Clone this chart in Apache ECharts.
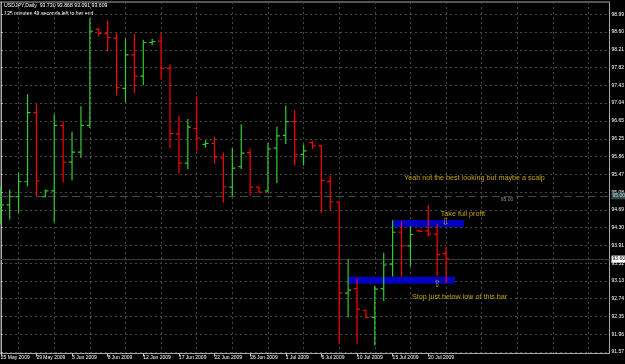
<!DOCTYPE html>
<html><head><meta charset="utf-8">
<script src="https://cdn.jsdelivr.net/npm/echarts@6/dist/echarts.min.js"></script>
<style>html,body{margin:0;padding:0;background:#000;}#c{width:625px;height:364px;}</style>
</head><body><div id="c"></div>
<script>
// ---- data ----
const categories = ['2009.05.25','2009.05.26','2009.05.27','2009.05.28','2009.05.29','2009.05.31','2009.06.01','2009.06.02','2009.06.03','2009.06.04','2009.06.05','2009.06.07','2009.06.08','2009.06.09','2009.06.10','2009.06.11','2009.06.12','2009.06.14','2009.06.15','2009.06.16','2009.06.17','2009.06.18','2009.06.19','2009.06.21','2009.06.22','2009.06.23','2009.06.24','2009.06.25','2009.06.26','2009.06.28','2009.06.29','2009.06.30','2009.07.01','2009.07.02','2009.07.03','2009.07.05','2009.07.06','2009.07.07','2009.07.08','2009.07.09','2009.07.10','2009.07.12','2009.07.13','2009.07.14','2009.07.15','2009.07.16','2009.07.17','2009.07.19','2009.07.20','2009.07.21','2009.07.22'];
const opens  = [94.65,94.80,94.98,95.31,96.83,94.98,95.11,96.55,95.74,95.96,96.55,98.66,98.57,98.46,97.36,98.10,97.63,98.37,98.40,97.80,96.36,95.72,96.48,96.13,96.15,95.83,95.19,95.64,95.95,95.19,95.11,96.05,96.33,96.63,95.91,96.17,96.10,95.32,94.86,92.86,92.96,92.48,92.33,92.96,93.50,94.20,93.90,94.23,94.23,94.16,93.730];
const highs  = [95.19,95.13,95.50,97.22,97.00,95.13,96.78,96.62,96.40,96.96,98.89,98.67,98.85,98.56,98.44,98.55,98.42,98.44,98.57,97.88,96.75,96.68,97.17,96.21,96.29,95.94,96.04,96.56,96.03,95.19,96.15,96.51,96.97,96.87,96.12,96.20,96.10,95.44,94.86,93.59,93.17,92.49,93.02,93.74,94.45,94.43,94.32,94.23,94.78,94.38,93.868];
const lows   = [94.40,94.49,94.63,95.22,95.00,94.98,94.43,95.30,95.35,95.85,96.50,98.52,98.19,97.22,97.07,97.27,97.44,98.32,97.56,96.06,95.50,95.60,95.99,96.07,95.71,94.86,95.00,95.60,95.02,95.07,95.09,95.29,96.15,95.68,95.68,96.04,94.63,94.69,91.77,92.34,91.76,92.33,91.72,92.70,93.24,93.24,93.46,94.21,94.12,93.26,93.091];
const closes = [94.80,94.98,95.31,96.83,95.33,95.11,96.55,95.74,95.96,96.55,98.62,98.57,98.48,97.38,98.10,97.63,98.37,98.39,97.80,96.37,95.72,96.51,96.27,96.15,95.85,95.20,95.61,95.94,95.19,95.08,96.03,96.32,96.63,95.91,95.99,96.10,95.34,94.87,92.86,92.93,92.51,92.33,92.95,93.48,94.20,93.90,94.15,94.22,94.16,93.71,93.609];

const xTickIndex  = [0,4,8,12,16,20,24,28,32,36,40,44,48];
const xTickLabels = ['25 May 2009','29 May 2009','3 Jun 2009','8 Jun 2009','12 Jun 2009','17 Jun 2009','22 Jun 2009','26 Jun 2009','1 Jul 2009','6 Jul 2009','10 Jul 2009','15 Jul 2009','20 Jul 2009'];
const xGridIndex  = [2,6,10,14,18,22,26,30,34,38,42,46,50,54,58,62,66];
const yTicks = [98.99,98.60,98.21,97.82,97.43,97.04,96.65,96.25,95.86,95.47,95.08,94.69,94.30,93.91,93.52,93.13,92.74,92.35,91.96,91.57];

const hLevel = 95.00;
const bidPrice = 93.609;
// rectangles
const zoneStarts = [44, 39];
const zoneEnds   = [52, 51];
const zoneTops   = [94.469, 93.223];
const zoneBottoms= [94.315, 93.069];
// annotations: text, bar index, price
const noteTexts  = ['Yeah not the best looking but maybe a scalp','Take full profit','Stop just below low of this bar'];
const noteX      = [45.28, 49.40, 46.18];
const noteY      = [95.399, 94.601, 92.783];
const arrowTexts = ['\u21E9','\u21E7'];
const arrowX     = [49.94, 49.0];
const arrowY     = [94.419, 93.052];

// ---- chart ----
const FONT = '"Liberation Sans", Arial, sans-serif';
const UP = '#32CD32', DOWN = '#FF0000';
const bars = opens.map((o, i) => [i, o, highs[i], lows[i], closes[i]]);
const last = bars.length - 1;

const chart = echarts.init(document.getElementById('c'), null, {renderer: 'canvas'});
const XMIN = -0.0898, XMAX = 68.355;

const notes = noteTexts.map((t, i) => ({
  value: [noteX[i], noteY[i]], name: t,
  label: {show: true, position: 'right', distance: 0, formatter: t, color: '#f0c800', fontSize: 7.2, fontFamily: FONT}
}));
notes.push({
  value: [56.14, hLevel - 0.091], name: hLevel.toFixed(2),
  label: {show: true, position: 'right', distance: 0, formatter: hLevel.toFixed(2), color: '#b0b0b0', fontSize: 5, fontFamily: FONT}
});
const arrows = arrowTexts.map((t, i) => ({
  value: [arrowX[i], arrowY[i]], name: t,
  label: {show: true, position: 'inside', formatter: t, color: '#f0c800', fontSize: 9.5, fontFamily: '"DejaVu Sans", sans-serif'}
}));

chart.setOption({
  backgroundColor: '#000',
  animation: false,
  grid: {left: 0, right: 15.5, top: 2, bottom: 10.5, show: true, borderColor: '#a8a8a8', borderWidth: 1, backgroundColor: '#000', containLabel: false, outerBoundsMode: 'none'},
  xAxis: [{
    type: 'value', min: XMIN, max: XMAX, position: 'bottom',
    axisLine: {show: true, lineStyle: {color: '#a8a8a8', width: 1}},
    axisTick: {show: true, customValues: xTickIndex, length: 3, lineStyle: {color: '#c8c8c8'}},
    axisLabel: {show: true, customValues: xTickIndex, align: 'left', margin: 2, color: '#ffffff', fontSize: 5, fontFamily: FONT,
      formatter: v => xTickLabels[xTickIndex.indexOf(Math.round(v))] || ''},
    splitLine: {show: false}
  }, {
    type: 'value', min: XMIN, max: XMAX, position: 'bottom',
    axisLine: {show: false}, axisLabel: {show: false},
    axisTick: {show: false, customValues: xGridIndex},
    splitLine: {show: true, lineStyle: {color: '#464646', type: [2, 3], width: 1}}
  }],
  yAxis: {
    type: 'value', position: 'right', min: 91.5351, max: 99.2603, scale: true,
    axisLine: {show: true, lineStyle: {color: '#a8a8a8', width: 1}},
    axisTick: {show: true, customValues: yTicks, length: 2, lineStyle: {color: '#c8c8c8'}},
    axisLabel: {show: true, customValues: yTicks, margin: 2, color: '#ffffff', fontSize: 5, fontFamily: FONT, formatter: v => v.toFixed(2)},
    splitLine: {show: true, lineStyle: {color: '#464646', type: [2, 3], width: 1}}
  },
  graphic: [
    {type: 'text', left: 4, top: 3, silent: true, style: {text: 'USDJPY,Daily  ' + [opens[last], highs[last], lows[last], closes[last]].map(v => v.toFixed(3)).join(' '), fill: '#ffffff', font: '5.2px ' + FONT}},
    {type: 'text', left: 4, top: 10.7, silent: true, style: {text: '135 minutes 49 seconds left to bar end', fill: '#ffffff', font: '5.2px ' + FONT}}
  ],
  series: [{
    type: 'custom', name: 'USDJPY', xAxisIndex: 0, yAxisIndex: 0,
    data: bars, clip: true, z: 5,
    encode: {x: 0, y: [1, 2, 3, 4]},
    renderItem: (params, api) => {
      const i = api.value(0);
      const o = api.coord([i, api.value(1)]);
      const h = api.coord([i, api.value(2)]);
      const l = api.coord([i, api.value(3)]);
      const c = api.coord([i, api.value(4)]);
      const col = api.value(4) >= api.value(1) ? UP : DOWN;
      const st = {stroke: col, lineWidth: 1.2};
      return {type: 'group', children: [
        {type: 'line', shape: {x1: h[0], y1: h[1] - 0.5, x2: l[0], y2: l[1] + 0.5}, style: st},
        {type: 'line', shape: {x1: o[0] - 3, y1: o[1], x2: o[0], y2: o[1]}, style: st},
        {type: 'line', shape: {x1: c[0], y1: c[1], x2: c[0] + 3, y2: c[1]}, style: st}
      ]};
    },
    markArea: {
      silent: true, z: 1,
      itemStyle: {color: '#0000c0', opacity: 1},
      data: zoneStarts.map((s, k) => [{xAxis: s, yAxis: zoneTops[k]}, {xAxis: zoneEnds[k], yAxis: zoneBottoms[k]}])
    },
    markLine: {
      silent: true, symbol: 'none', animation: false,
      data: [
        {yAxis: hLevel, lineStyle: {color: '#2F4F4F', type: [8, 4], width: 1},
         label: {show: true, position: 'end', distance: 2, formatter: hLevel.toFixed(2), color: '#d0d0d0', backgroundColor: '#2F4F4F', fontSize: 5, fontFamily: FONT, padding: [1, 1]}},
        {yAxis: bidPrice, lineStyle: {color: '#3a3a3a', type: 'solid', width: 1},
         label: {show: true, position: 'end', distance: 2, formatter: bidPrice.toFixed(3).slice(0, 5), color: '#000000', backgroundColor: '#ffffff', fontSize: 5, fontFamily: FONT, padding: [1, 1]}}
      ]
    }
  }, {
    type: 'scatter', xAxisIndex: 0, yAxisIndex: 0, symbolSize: 0, silent: true, z: 6,
    data: notes.concat(arrows)
  }]
});
</script></body></html>
